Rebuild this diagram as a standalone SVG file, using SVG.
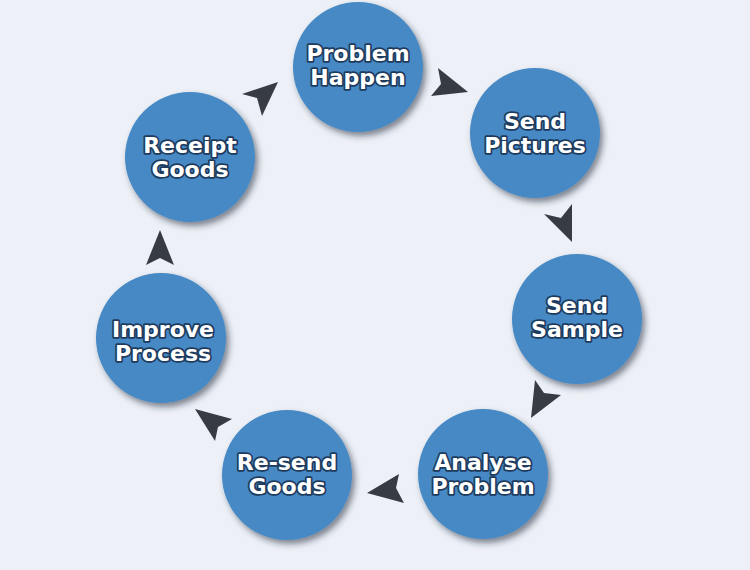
<svg xmlns="http://www.w3.org/2000/svg" width="750" height="570" viewBox="0 0 750 570">
<defs>
<filter id="sh" x="-30%" y="-30%" width="160%" height="160%">
<feDropShadow dx="3" dy="4" stdDeviation="3" flood-color="#1a2a3a" flood-opacity="0.55"/>
</filter>
<style>
.c{fill:#4689c5;filter:url(#sh)}
.t{font-family:"DejaVu Sans","Liberation Sans",sans-serif;font-weight:bold;font-size:22px;fill:#ffffff;stroke:#1e3b5e;stroke-width:3.5px;stroke-linejoin:round;paint-order:stroke;text-anchor:middle}
.a{fill:#373c42}
</style>
</defs>
<rect width="750" height="570" fill="#edf1f7"/>
<g id="connectors">
<polygon class="a" points="278,82 242,94 257,98 262,116"/>
<polygon class="a" points="468,92 438,68 441,84 431,96"/>
<polygon class="a" points="572,242 544,214 561,218 572,204"/>
<polygon class="a" points="531,418 535,380 544,393 561,395"/>
<polygon class="a" points="367,493 399,474 396,488 404,503"/>
<polygon class="a" points="195,409 232,419 218,427 215,441"/>
<polygon class="a" points="160,230 146,265 160,258 174,265"/>
</g>
<g id="problem-happen">
<circle class="c" cx="358" cy="67" r="65"/>
<text class="t" x="358" y="61">Problem</text>
<text class="t" x="358" y="85">Happen</text>
</g>
<g id="send-pictures">
<circle class="c" cx="535" cy="133" r="65"/>
<text class="t" x="535" y="129">Send</text>
<text class="t" x="535" y="153">Pictures</text>
</g>
<g id="send-sample">
<circle class="c" cx="577" cy="319" r="65"/>
<text class="t" x="577" y="313">Send</text>
<text class="t" x="577" y="337">Sample</text>
</g>
<g id="analyse-problem">
<circle class="c" cx="483" cy="474" r="65"/>
<text class="t" x="483" y="470">Analyse</text>
<text class="t" x="483" y="494">Problem</text>
</g>
<g id="resend-goods">
<circle class="c" cx="287" cy="475" r="65"/>
<text class="t" x="287" y="470">Re-send</text>
<text class="t" x="287" y="494">Goods</text>
</g>
<g id="improve-process">
<circle class="c" cx="161" cy="338" r="65"/>
<text class="t" x="163" y="337">Improve</text>
<text class="t" x="163" y="361">Process</text>
</g>
<g id="receipt-goods">
<circle class="c" cx="190" cy="157" r="65"/>
<text class="t" x="190" y="153">Receipt</text>
<text class="t" x="190" y="177">Goods</text>
</g>
</svg>
